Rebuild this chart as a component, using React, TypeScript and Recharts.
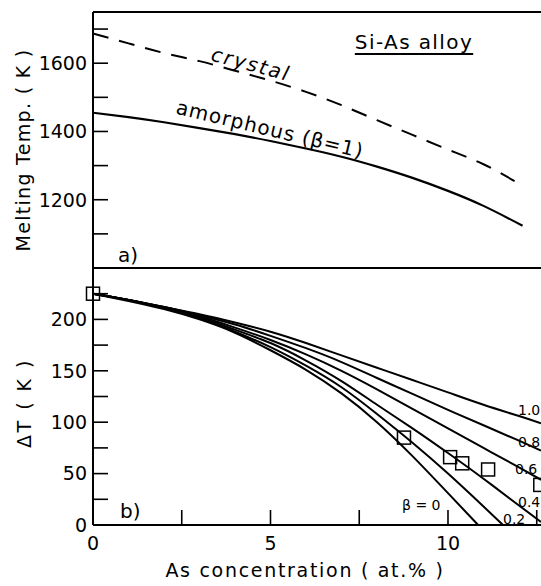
import React from 'react'
import { ComposedChart, Line, Scatter, XAxis, YAxis, ReferenceLine } from 'recharts'

// a) melting temperature (K) against As concentration (at.%)
const crystalConc = [0, 1, 2, 3, 4, 5, 6, 7, 8, 9, 10, 11, 12]
const crystalT = [1687, 1658, 1630, 1606, 1578, 1549, 1516, 1477, 1433, 1390, 1347, 1304, 1247]
const amorphousConc = [0, 1, 2, 3, 4, 5, 6, 7, 8, 9, 10, 11, 12.1]
const amorphousT = [1455, 1442, 1427, 1410, 1392, 1372, 1350, 1326, 1297, 1264, 1226, 1182, 1124]

// b) undercooling dT (K), one curve for each beta
const dtConc = [0, 1, 2, 3, 4, 5, 6, 7, 8, 9, 10, 11, 12, 12.62]
const dtBeta10 = [225, 219, 212, 205, 197, 188, 177, 165, 153, 141, 129, 117, 106, 99]
const dtBeta08 = [225, 219, 212, 204, 195, 184, 172, 158.5, 143, 127.5, 112, 97, 82, 72.5]
const dtBeta06 = [225, 219, 212, 203, 192, 180, 166, 150, 132, 113, 94, 75, 56, 44]
const dtBeta04 = [225, 219, 211, 202, 190, 177, 160, 140, 117, 94, 70, 45, 19, 3]
const dtConcB02 = [0, 1, 2, 3, 4, 5, 6, 7, 8, 9, 10, 11, 11.55]
const dtBeta02 = [225, 219, 211, 201, 188, 173, 155, 134, 108, 80, 50, 18, 0]
const dtConcB00 = [0, 1, 2, 3, 4, 5, 6, 7, 8, 9, 10, 10.85]
const dtBeta00 = [225, 218, 210, 200, 187, 170, 151, 128, 100, 67, 31, 0]

// measured points (squares)
const expConc = [0, 8.76, 10.06, 10.4, 11.13, 12.6]
const expDT = [225, 85, 66, 60, 54, 39]

const xTicks = [0, 2.5, 5, 7.5, 10, 12.5]
const xLabels = [0, 5, 10]
const tTicks = [1100, 1200, 1300, 1400, 1500, 1600, 1700]
const tLabels = [1200, 1400, 1600]
const dtTicks = [0, 25, 50, 75, 100, 125, 150, 175, 200, 225]
const dtLabels = [0, 50, 100, 150, 200]

const FONT = '"DejaVu Sans", "Liberation Sans", sans-serif'
const X_MAX = 12.62

const zip = (xs: number[], ys: number[], key: string) => xs.map((c, i) => ({ c, [key]: ys[i] }))

const XTick = (props: any) => {
  const { x, y, payload, labels } = props
  return (
    <g>
      <line x1={x} y1={y} x2={x} y2={y - 15} stroke="#000" strokeWidth={1.6} />
      {labels.includes(payload.value) && (
        <text x={x} y={y + 25} textAnchor="middle" fontSize={19} fontFamily={FONT} fill="#000">
          {payload.value}
        </text>
      )}
    </g>
  )
}

const YTick = (props: any) => {
  const { x, y, payload, labels } = props
  return (
    <g>
      <line x1={x} y1={y} x2={x + 15} y2={y} stroke="#000" strokeWidth={1.6} />
      {labels.includes(payload.value) && (
        <text x={x - 6} y={y} dy="0.36em" textAnchor="end" fontSize={19} fontFamily={FONT} fill="#000">
          {payload.value}
        </text>
      )}
    </g>
  )
}

const Square = (props: any) => {
  const { cx, cy } = props
  return <rect x={cx - 6.5} y={cy - 6.5} width={13} height={13} fill="none" stroke="#000" strokeWidth={1.5} />
}

type NoteProps = {
  x: number
  y: number
  size?: number
  rotate?: number
  italic?: boolean
  spacing?: number
  left?: boolean
  underline?: boolean
  children: React.ReactNode
}

const Note = ({ x, y, size = 19, rotate = 0, italic, spacing = 0, left, underline, children }: NoteProps) => (
  <div
    style={{
      position: 'absolute',
      left: x,
      top: y,
      transform: `translate(${left ? '0' : '-50%'}, -50%) rotate(${rotate}deg)`,
      fontSize: size,
      fontStyle: italic ? 'italic' : 'normal',
      letterSpacing: spacing,
      lineHeight: 1,
      whiteSpace: 'nowrap',
      textDecoration: underline ? 'underline' : 'none',
      textUnderlineOffset: 4,
      textDecorationThickness: 2,
    }}
  >
    {children}
  </div>
)

const axisLine = { stroke: '#000', strokeWidth: 2 }

export default function App() {
  const crystal = zip(crystalConc, crystalT, 't')
  const amorphous = zip(amorphousConc, amorphousT, 't')
  const curves = [
    zip(dtConc, dtBeta10, 'dt'),
    zip(dtConc, dtBeta08, 'dt'),
    zip(dtConc, dtBeta06, 'dt'),
    zip(dtConc, dtBeta04, 'dt'),
    zip(dtConcB02, dtBeta02, 'dt'),
    zip(dtConcB00, dtBeta00, 'dt'),
  ]
  const points = zip(expConc, expDT, 'dt')

  return (
    <div
      style={{
        position: 'absolute',
        left: 0,
        top: 0,
        width: 541,
        height: 586,
        overflow: 'hidden',
        background: '#fff',
        fontFamily: FONT,
        color: '#000',
      }}
    >
      <div style={{ position: 'absolute', left: 0, top: 0 }}>
        <ComposedChart width={541} height={270} margin={{ top: 12, right: 0, bottom: 2, left: 0 }}>
          <XAxis
            type="number"
            dataKey="c"
            domain={[0, X_MAX]}
            ticks={xTicks}
            interval={0}
            height={0}
            tickSize={0}
            tickMargin={0}
            tickLine={false}
            axisLine={axisLine}
            tick={(p: any) => <XTick {...p} labels={[]} />}
          />
          <YAxis
            type="number"
            domain={[1000, 1750]}
            ticks={tTicks}
            interval={0}
            width={93}
            tickSize={0}
            tickMargin={0}
            tickLine={false}
            axisLine={axisLine}
            tick={(p: any) => <YTick {...p} labels={tLabels} />}
          />
          <ReferenceLine y={1750} stroke="#000" strokeWidth={2} />
          <Line
            data={crystal}
            dataKey="t"
            type="natural"
            stroke="#000"
            strokeWidth={2}
            strokeDasharray="16 11"
            dot={false}
            isAnimationActive={false}
          />
          <Line
            data={amorphous}
            dataKey="t"
            type="natural"
            stroke="#000"
            strokeWidth={2.2}
            dot={false}
            isAnimationActive={false}
          />
        </ComposedChart>
      </div>

      <div style={{ position: 'absolute', left: 0, top: 256 }}>
        <ComposedChart width={541} height={330} margin={{ top: 12, right: 0, bottom: 0, left: 0 }}>
          <XAxis
            type="number"
            dataKey="c"
            domain={[0, X_MAX]}
            ticks={xTicks}
            interval={0}
            height={61}
            tickSize={0}
            tickMargin={0}
            tickLine={false}
            axisLine={axisLine}
            tick={(p: any) => <XTick {...p} labels={xLabels} />}
          />
          <YAxis
            type="number"
            domain={[0, 250]}
            ticks={dtTicks}
            interval={0}
            width={93}
            tickSize={0}
            tickMargin={0}
            tickLine={false}
            axisLine={axisLine}
            tick={(p: any) => <YTick {...p} labels={dtLabels} />}
          />
          <ReferenceLine y={250} stroke="#000" strokeWidth={2} />
          {curves.map((d, i) => (
            <Line
              key={i}
              data={d}
              dataKey="dt"
              type="natural"
              stroke="#000"
              strokeWidth={2}
              dot={false}
              isAnimationActive={false}
            />
          ))}
          <Scatter data={points} dataKey="dt" shape={<Square />} isAnimationActive={false} />
        </ComposedChart>
      </div>

      <Note x={23} y={150} rotate={-90} spacing={1.3}>Melting Temp. ( K )</Note>
      <Note x={24} y={403} rotate={-90} spacing={2.5}>ΔT ( K )</Note>
      <Note x={305} y={570} spacing={1.7}>As concentration ( at.% )</Note>

      <Note x={414} y={42} size={20} spacing={1.4} underline>Si-As alloy</Note>
      <Note x={251} y={64} size={20} rotate={15} italic spacing={2}>crystal</Note>
      <Note x={270} y={129} size={20} rotate={13.5} spacing={1}>amorphous (β=1)</Note>
      <Note x={118} y={255} size={20} left>a)</Note>
      <Note x={120} y={511} size={20} left>b)</Note>

      <Note x={518} y={410} size={14} left>1.0</Note>
      <Note x={518} y={442} size={14} left>0.8</Note>
      <Note x={515} y={469} size={14} left>0.6</Note>
      <Note x={518} y={502} size={14} left>0.4</Note>
      <Note x={503} y={519} size={14} left>0.2</Note>
      <Note x={402} y={505} size={14} left>β = 0</Note>
    </div>
  )
}
